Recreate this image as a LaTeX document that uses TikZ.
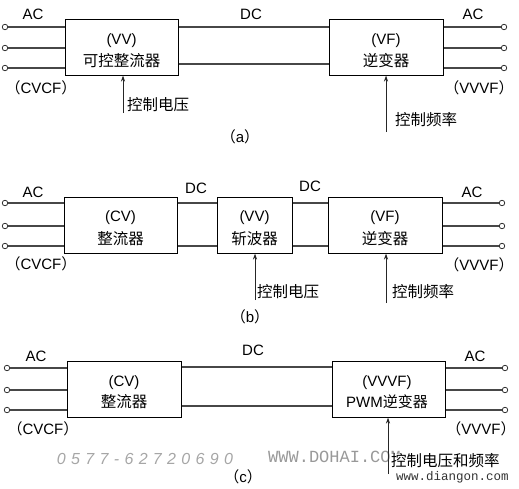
\documentclass[tikz,border=0pt]{standalone}
\usepackage{fontspec}
\setmainfont{Liberation Sans}
\newfontfamily\cjk{Noto Sans CJK SC}
\newfontfamily\wmono{Liberation Mono}
\usetikzlibrary{arrows.meta}
\begin{document}
\begin{tikzpicture}[x=1pt,y=-1pt,
  blk/.style={draw=black, line width=1pt, fill=white, minimum height=56pt, inner sep=0pt},
  term/.style={circle, draw=black!80, line width=0.8pt, fill=white, minimum size=5.5pt, inner sep=0pt},
  wire/.style={draw=black!72, line width=1.1pt},
  ctrl/.style={draw=black!85, line width=1pt, -{Stealth[length=6pt,width=4pt]}},
  lat/.style={font=\fontsize{15}{15}\selectfont, inner sep=0pt},
  zh/.style={font=\fontsize{15.5}{15.5}\selectfont\cjk, inner sep=0pt},
  wm/.style={inner sep=0pt},
]
\useasboundingbox (0,0) rectangle (519,488);

% ================= (a) =================
\node[blk, minimum width=113pt] (VVa) at (121.5,47) {};
\node[blk, minimum width=114pt] (VFa) at (386,47) {};
\node[lat] (VVa1) at (121.5,41) {(VV)};
\node[zh]  (VVa2) at (121.5,61) {可控整流器};
\node[lat] (VFa1) at (386,41) {(VF)};
\node[zh]  (VFa2) at (386,61) {逆变器};

\node[term] (la1) at (5,27) {};
\node[term] (la2) at (5,48) {};
\node[term] (la3) at (5,68) {};
\node[term] (ra1) at (504,27) {};
\node[term] (ra2) at (504,48) {};
\node[term] (ra3) at (504,68) {};
\foreach \t in {la1,la2,la3} \draw[wire] (\t) -- (\t -| VVa.west);
\foreach \t in {ra1,ra2,ra3} \draw[wire] (\t) -- (\t -| VFa.east);
\draw[wire] ([yshift=20pt]VVa.east) -- ([yshift=20pt]VFa.west);
\draw[wire] ([yshift=-17pt]VVa.east) -- ([yshift=-17pt]VFa.west);

\coordinate (ca1) at (123,113);
\coordinate (ca2) at (386,132);
\draw[ctrl] (ca1) -- (ca1 |- VVa.south);
\draw[ctrl] (ca2) -- (ca2 |- VFa.south);

\node[lat] (ACa1) at (33,14) {AC};
\node[lat] (DCa) at (251,14) {DC};
\node[lat] (ACa2) at (473,14) {AC};
\node[lat] (CVCFa) at (41,88) {{\cjk （}CVCF{\cjk ）}};
\node[lat] (VVVFa) at (479,88) {{\cjk （}VVVF{\cjk ）}};
\node[zh, anchor=west] (kzdya) at (127,105) {控制电压};
\node[zh, anchor=west] (kzpla) at (395,120) {控制频率};
\node[lat] (capa) at (240,137) {{\cjk （}a{\cjk ）}};

% ================= (b) =================
\node[blk, minimum width=113pt] (CVb) at (120.5,225) {};
\node[blk, minimum width=75pt]  (VVb) at (254.5,225) {};
\node[blk, minimum width=114pt] (VFb) at (385,225) {};
\node[lat] (CVb1) at (120.5,218) {(CV)};
\node[zh]  (CVb2) at (120.5,239) {整流器};
\node[lat] (VVb1) at (254.5,218) {(VV)};
\node[zh]  (VVb2) at (254.5,239) {斩波器};
\node[lat] (VFb1) at (385,218) {(VF)};
\node[zh]  (VFb2) at (385,239) {逆变器};

\node[term] (lb1) at (5,203) {};
\node[term] (lb2) at (5,226) {};
\node[term] (lb3) at (5,246) {};
\node[term] (rb1) at (502,203) {};
\node[term] (rb2) at (502,226) {};
\node[term] (rb3) at (502,246) {};
\foreach \t in {lb1,lb2,lb3} \draw[wire] (\t) -- (\t -| CVb.west);
\foreach \t in {rb1,rb2,rb3} \draw[wire] (\t) -- (\t -| VFb.east);
\draw[wire] ([yshift=22pt]CVb.east) -- ([yshift=22pt]VVb.west);
\draw[wire] ([yshift=-21pt]CVb.east) -- ([yshift=-21pt]VVb.west);
\draw[wire] ([yshift=22pt]VVb.east) -- ([yshift=22pt]VFb.west);
\draw[wire] ([yshift=-21pt]VVb.east) -- ([yshift=-21pt]VFb.west);

\coordinate (cb1) at (255,300);
\coordinate (cb2) at (386,303);
\draw[ctrl] (cb1) -- (cb1 |- VVb.south);
\draw[ctrl] (cb2) -- (cb2 |- VFb.south);

\node[lat] (ACb1) at (33,192) {AC};
\node[lat] (DCb1) at (196,188) {DC};
\node[lat] (DCb2) at (310,186) {DC};
\node[lat] (ACb2) at (472,192) {AC};
\node[lat] (CVCFb) at (41,264) {{\cjk （}CVCF{\cjk ）}};
\node[lat] (VVVFb) at (479,265) {{\cjk （}VVVF{\cjk ）}};
\node[zh, anchor=west] (kzdyb) at (257,292) {控制电压};
\node[zh, anchor=west] (kzplb) at (392,292) {控制频率};
\node[lat] (capb) at (250,317) {{\cjk （}b{\cjk ）}};

% ================= (c) =================
\node[blk, minimum width=114pt] (CVc) at (124,389) {};
\node[blk, minimum width=113pt] (PWMc) at (388.5,389) {};
\node[lat] (CVc1) at (124,383) {(CV)};
\node[zh]  (CVc2) at (124,402) {整流器};
\node[lat] (PWMc1) at (387,383) {(VVVF)};
\node[lat] (PWMc2) at (387,402) {PWM{\cjk 逆变器}};

\node[term] (lc1) at (7,368) {};
\node[term] (lc2) at (7,390) {};
\node[term] (lc3) at (7,410) {};
\node[term] (rc1) at (505,368) {};
\node[term] (rc2) at (505,390) {};
\node[term] (rc3) at (505,410) {};
\foreach \t in {lc1,lc2,lc3} \draw[wire] (\t) -- (\t -| CVc.west);
\foreach \t in {rc1,rc2,rc3} \draw[wire] (\t) -- (\t -| PWMc.east);
\draw[wire] ([yshift=22pt]CVc.east) -- ([yshift=22pt]PWMc.west);
\draw[wire] ([yshift=-17pt]CVc.east) -- ([yshift=-17pt]PWMc.west);

% watermarks
\node[wm, text=black!35, font=\fontsize{16}{16}\selectfont\itshape] (wm1) at (145,459) {0\,\,5\,\,7\,\,7\,\,-\,\,6\,\,2\,\,7\,\,2\,\,0\,\,6\,\,9\,\,0};
\node[wm, text=black!40, font=\fontsize{17}{17}\selectfont\wmono, anchor=west] (wm2) at (268,457) {WWW.DOHAI.COM};

\coordinate (cc1) at (388,474);
\draw[ctrl] (cc1) -- (cc1 |- PWMc.south);

\node[lat] (ACc1) at (36,356) {AC};
\node[lat] (DCc) at (253,350) {DC};
\node[lat] (ACc2) at (475,356) {AC};
\node[lat] (CVCFc) at (43,429) {{\cjk （}CVCF{\cjk ）}};
\node[lat] (VVVFc) at (481,429) {{\cjk （}VVVF{\cjk ）}};
\node[zh, anchor=west, fill=white, inner ysep=0pt] (kzc) at (391,461) {控制电压和频率};
\node[lat] (capc) at (243,477) {{\cjk （}c{\cjk ）}};
\node[wm, text=black!80, font=\fontsize{12.5}{12.5}\selectfont\wmono, anchor=west] (wm3) at (396,477) {www.diangon.com};
\end{tikzpicture}
\end{document}
